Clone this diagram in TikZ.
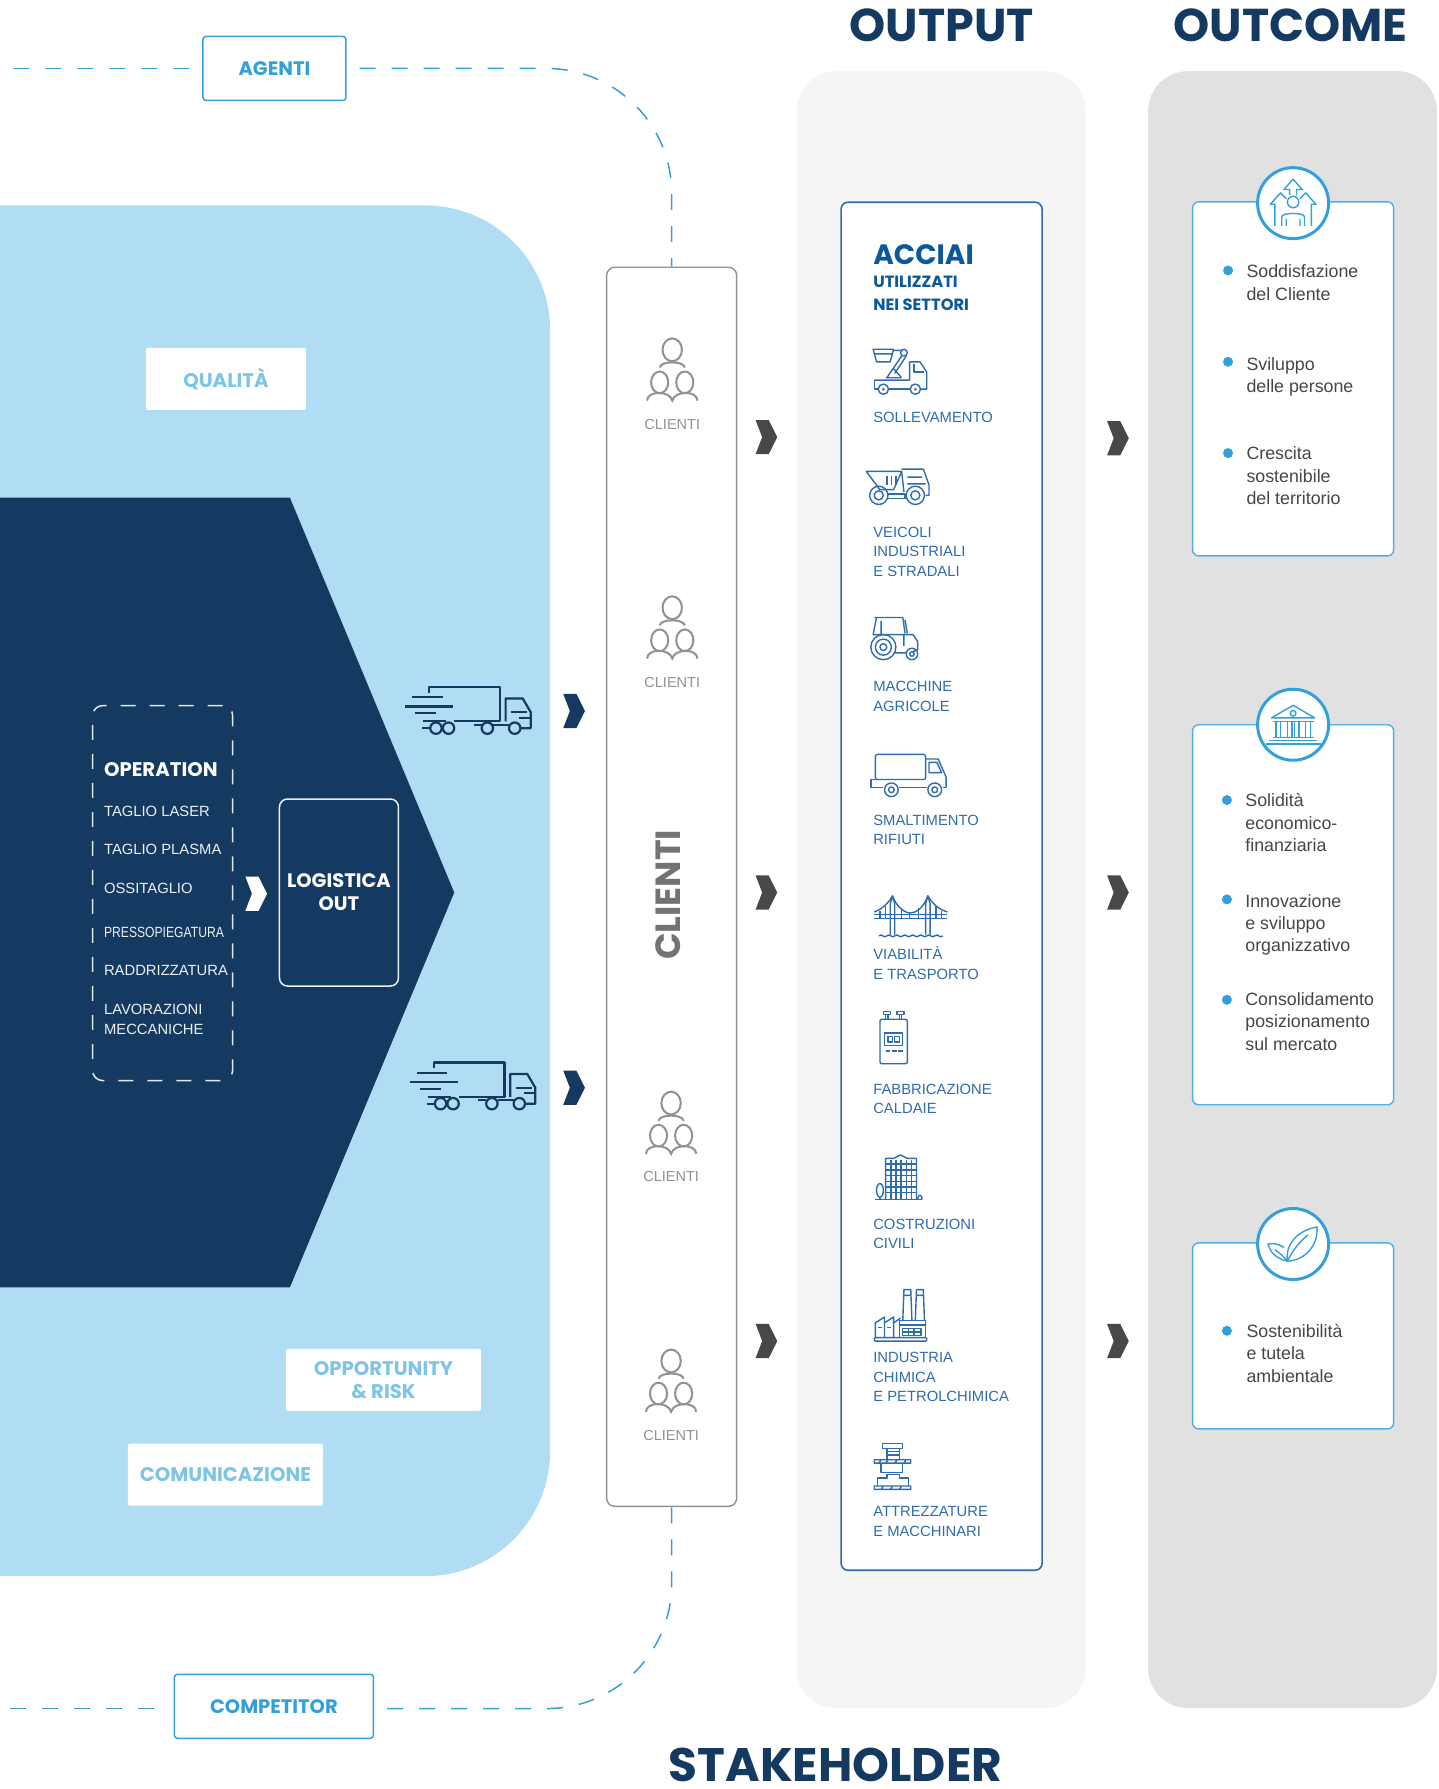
\documentclass[tikz,border=0pt]{standalone}
\usepackage{fontspec}
\usepackage{xcolor}
\setmainfont{Liberation Sans}
\newfontfamily\headfont{Poppins}
\usetikzlibrary{positioning,calc}
\definecolor{navyblue}{RGB}{21,58,97}
\definecolor{skyblue}{RGB}{176,221,243}
\definecolor{tagblue}{RGB}{125,196,230}
\definecolor{agentblue}{RGB}{52,160,218}
\definecolor{sectorblue}{RGB}{47,108,173}
\definecolor{acciaiblue}{RGB}{11,88,155}
\definecolor{outputgrey}{RGB}{245,245,246}
\definecolor{outcomegrey}{RGB}{225,225,225}
\definecolor{clientgrey}{RGB}{145,145,145}
\definecolor{chevgrey}{RGB}{72,72,72}
\definecolor{cardtext}{RGB}{70,70,70}
\tikzset{
    pics/chevronmark/.style={code={
        \fill[#1] (-9.5,-15) -- (2,-15) -- (9.5,0) -- (2,15) -- (-9.5,15) -- (-3.7,0) -- cycle;
    }},
    pics/people/.style={code={
        \draw (0,-18.5) ellipse (8.5 and 10);
        \draw (-11,-3) .. controls (-10,-9) and (10,-9) .. (11,-3);
        \draw (-11,10) ellipse (7.5 and 9.5);
        \draw (11,10) ellipse (7.5 and 9.5);
        \draw (-22,26) .. controls (-22,17) and (-2,17) .. (0,26) .. controls (2,17) and (22,17) .. (22,26);
    }},
    pics/fasttruck/.style={code={
        \draw (21,5) -- (21,0) -- (83,0) -- (83,30) -- (43,30);
        \draw (6,9) -- (33,9) (0,17) -- (42,17) (9,23) -- (27,23) (16,30) -- (36,30) (15,36) -- (22,36);
        \draw (27,36) circle (5) (38,36) circle (5) (72,36) circle (5) (96,36) circle (5);
        \draw (77,33) -- (91,33) (60,33) -- (67,33);
        \draw (88,30) -- (88,10) -- (103,10) -- (110,22) -- (110,36) -- (101,36);
        \draw (93,22) -- (107,22) (100,27) -- (110,27);
    }},
    pics/lifticon/.style={code={
        \draw (0,1) -- (18,1) -- (15,12) -- (3,12) -- cycle (1,5) -- (17,5);
        \draw (18,2) -- (26,2) (27,4) circle (3);
        \draw (25,7) -- (12,26) (29,7) -- (19,22) (18,18) -- (25,26) (11,26) -- (25,26);
        \draw (1,28) -- (32,28) -- (32,12) -- (41,12) -- (47,21) -- (47,36) -- (42,36);
        \draw (1,28) -- (1,36) -- (4,36) (14,36) -- (32,36) (36,14) -- (36,21) -- (45,21);
        \draw (9,36) circle (4.5) (37,36) circle (4.5);
        \fill (9,36) circle (1.3) (37,36) circle (1.3);
    }},
    pics/dumpicon/.style={code={
        \draw (0,3) -- (31,3) -- (24,19) -- (12,19) -- cycle;
        \draw (18,7) -- (18,15) (22,7) -- (22,15) (26,7) -- (26,15);
        \draw (31,1) -- (50,1) -- (55,15) -- (55,24) -- (52,24);
        \draw (31,3) -- (33,21) (36,8) -- (49,8) (36,14) -- (52,14);
        \draw (11,24) circle (8) (11,24) circle (4) (43,24) circle (8) (43,24) circle (4);
        \draw (19,23) -- (34,23) -- (34,27) -- (19,27);
    }},
    pics/tractoricon/.style={code={
        \draw (4,1) -- (29,1) -- (31,15) (6,1) -- (3,16) (10,4) -- (10,16) (31,3) -- (33,15);
        \draw (3,16) -- (38,16) -- (42,22) -- (42,29) -- (38,31) (22,32) -- (32,32) (30,16) -- (30,26);
        \draw (12,27) circle (11) (12,27) circle (7) (12,27) circle (3);
        \draw (37,33) circle (5) (37,33) circle (2);
    }},
    pics/boxicon/.style={code={
        \draw[rounded corners=2] (4,22) -- (4,0) -- (48,0) -- (48,22) -- cycle;
        \draw (4,22) -- (0,22) -- (0,29) -- (11,29) (25,29) -- (49,29) (63,29) -- (66,29);
        \draw (48,4) -- (59,4) -- (66,20) -- (66,29) (51,7) -- (58,7) -- (62,16) -- (51,16) -- cycle;
        \draw (18,31) circle (6) (18,31) circle (2.5) (56,31) circle (6) (56,31) circle (2.5);
    }},
    pics/bridgeicon/.style={code={
        \draw (14,35) -- (14,8) -- (16,1) -- (18,8) -- (18,35) (45,35) -- (45,8) -- (47,1) -- (49,8) -- (49,35);
        \draw (0,17) -- (64,17) (0,21) -- (64,21);
        \draw (0,15) .. controls (6,13) and (12,8) .. (16,1) .. controls (20,12) and (28,16) .. (31.5,16) .. controls (36,16) and (43,12) .. (47,1) .. controls (51,8) and (57,13) .. (64,15);
        \draw (5,14) -- (5,21) (10,10) -- (10,21) (24,12) -- (24,21) (31,16) -- (31,21) (39,12) -- (39,21) (54,10) -- (54,21) (59,14) -- (59,21);
        \draw (4,36) .. controls (7,33) and (8,39) .. (11,36) .. controls (14,33) and (15,39) .. (18,36) .. controls (21,33) and (22,39) .. (25,36) .. controls (28,33) and (29,39) .. (32,36) .. controls (35,33) and (36,39) .. (39,36) .. controls (42,33) and (43,39) .. (46,36) .. controls (49,33) and (50,39) .. (53,36) .. controls (56,33) and (57,39) .. (60,36);
    }},
    pics/boilericon/.style={code={
        \draw[rounded corners=2] (1,8) rectangle (25,47);
        \draw (4,1) rectangle (10,4) (16,1) rectangle (22,4) (6,4) -- (6,8) (8,4) -- (8,8) (18,4) -- (18,8) (20,4) -- (20,8);
        \draw (5,20) rectangle (21,31) (8,23) rectangle (12,28) (14,23) rectangle (18,28);
        \draw (6,36) -- (10,36) (11.5,36) -- (15.5,36) (17,36) -- (21,36);
    }},
    pics/buildingicon/.style={code={
        \draw (9,40) -- (9,4) -- (16,4) -- (22,1) -- (28,4) -- (36,4) -- (36,40);
        \draw (0,40) -- (41,40) (4,40) -- (4,39);
        \draw (4,32) ellipse (3 and 6);
        \draw (37,40) .. controls (37,35) and (41,35) .. (41,40);
        \draw (9,9) -- (36,9) (9,14) -- (36,14) (9,19) -- (36,19) (9,24) -- (36,24) (9,29) -- (36,29) (9,34) -- (36,34);
        \draw (13.5,5) -- (13.5,40) (18,5) -- (18,40) (22.5,5) -- (22.5,40) (27,5) -- (27,40) (31.5,5) -- (31.5,40);
    }},
    pics/factoryicon/.style={code={
        \draw (25,27) -- (26,0) -- (32,0) -- (33,27) (36,27) -- (37,0) -- (43,0) -- (44,27) (26,5) -- (32,5) (37,5) -- (43,5);
        \draw[rounded corners=1] (0,42) rectangle (46,45);
        \draw (1,42) -- (1,29) -- (9,24) -- (9,42) (9,29) -- (17,24) -- (17,42) (17,29) -- (23,25);
        \draw (22,27) -- (45,27) -- (45,42) (22,27) -- (22,42) (22,31) -- (45,31);
        \draw (25,34) rectangle (41,40) (30,34) -- (30,40) (35,34) -- (35,40) (25,37) -- (41,37);
        \draw (3,33) -- (7,33) (11,33) -- (15,33);
    }},
    pics/pressicon/.style={code={
        \draw (7,1) rectangle (25,5) (11,5) -- (11,15) (22,5) -- (22,15) (11,8) -- (22,8) (11,11) -- (22,11);
        \draw (0,15) rectangle (32,18) (6,15) -- (4,18) (12,15) -- (10,18) (20,15) -- (18,18) (28,15) -- (26,18);
        \draw (6,18) -- (6,26) -- (25,26) -- (25,18);
        \draw (3,38) -- (3,31) -- (11,31) -- (11,28) -- (22,28) -- (22,31) -- (30,31) -- (30,38);
        \draw (0,38) rectangle (32,41) (8,38) -- (6,41) (16,38) -- (14,41) (24,38) -- (22,41);
    }},
    pics/growicon/.style={code={
        \draw (0,-1) circle (5);
        \draw (-10,20) -- (-10,12) .. controls (-10,8) and (10,8) .. (10,12) -- (10,20) (-6,14) -- (-6,20) (6,14) -- (6,20);
        \draw (-3,-7) -- (-3,-12) -- (-8,-12) -- (0,-21) -- (8,-12) -- (3,-12) -- (3,-7);
        \draw (-16,20) -- (-16,1) -- (-20,1) -- (-11,-9) -- (-6,-4);
        \draw (16,20) -- (16,1) -- (20,1) -- (11,-9) -- (6,-4);
    }},
    pics/bankicon/.style={code={
        \draw (-19,-6) -- (0,-17) -- (19,-6) -- cycle (0,-10) circle (2.5);
        \draw (-18,-3) -- (18,-3);
        \draw (-15,-3) -- (-15,11) (-11,-3) -- (-11,11) (-5,-3) -- (-5,11) (-1,-3) -- (-1,11) (1,-3) -- (1,11) (5,-3) -- (5,11) (11,-3) -- (11,11) (15,-3) -- (15,11);
        \draw (-18,11) -- (18,11) (-21,14) -- (21,14) (-24,17) -- (24,17);
    }},
    pics/leaficon/.style={code={
        \draw (-5,15) .. controls (-7,0) and (4,-12) .. (21,-15) .. controls (22,0) and (12,14) .. (-5,15) -- cycle;
        \draw (-5,15) .. controls (0,4) and (8,-4) .. (13,-8);
        \draw (-5,15) .. controls (-14,13) and (-20,8) .. (-22,0) .. controls (-17,-1) and (-12,0) .. (-8,3);
        \draw (-5,15) .. controls (-9,10) and (-13,7) .. (-16,5);
    }}
}
\begin{document}
\begin{tikzpicture}[x=1.1413pt, y=-1.1413pt,
    titletext/.style={text=navyblue, inner sep=0, font=\headfont\bfseries\fontsize{46}{46}\selectfont},
    agentbox/.style={rectangle, draw=agentblue, fill=white, line width=1.5pt, rounded corners=3pt,
                text=agentblue, minimum height=64pt, font=\headfont\bfseries\fontsize{19.5}{24}\selectfont},
    tagbox/.style={rectangle, fill=white, rounded corners=2pt, minimum height=62pt, align=center, text=tagblue,
                font=\headfont\bfseries\fontsize{19.7}{23}\selectfont},
    oplabel/.style={anchor=base west, inner sep=0, align=left, text=white!92!navyblue,
                font=\fontsize{14.8}{19.4}\selectfont},
    sector/.style={anchor=base west, inner sep=0, align=left, text=sectorblue,
                font=\fontsize{14.8}{19.4}\selectfont},
    clientlabel/.style={text=clientgrey, inner sep=0, font=\fontsize{14.5}{17}\selectfont},
    card/.style={rectangle, draw=agentblue!85, fill=white, line width=1.4pt, rounded corners=6pt,
                minimum width=201pt},
    badge/.style={circle, draw=agentblue, fill=white, line width=3pt, minimum size=71pt, inner sep=0},
    goal/.style={anchor=base west, inner sep=0, align=left, text=cardtext,
                font=\fontsize{17.8}{22.3}\selectfont},
    dot/.style={circle, fill=agentblue, minimum size=10pt, inner sep=0},
    dashline/.style={agentblue, line width=1.5pt, dash pattern=on 16pt off 16pt},
    iconline/.style={sectorblue, line width=1.4pt, line join=round},
    badgeline/.style={agentblue, line width=1.4pt, line join=round},
    truckline/.style={navyblue, line width=2.2pt, line join=round},
    peopleline/.style={clientgrey, line width=2pt}
]
\useasboundingbox (0,0) rectangle (1260,1567.5);

% Panels
\node[rectangle, fill=outputgrey, rounded corners=40pt, minimum width=289pt, minimum height=1637pt] (outputpanel) at (824.5,779.5) {};
\node[rectangle, fill=outcomegrey, rounded corners=40pt, minimum width=289pt, minimum height=1637pt] (outcomepanel) at (1132.5,779.5) {};
\fill[skyblue] (0,180) [rounded corners=125pt] -- (482,180) -- (482,1381) [sharp corners] -- (0,1381) -- cycle;
\fill[navyblue] (0,436) -- (254,436) -- (398,782) -- (254,1128) -- (0,1128) -- cycle;

% Titles
\node[titletext] (outputtitle) at (825,22) {OUTPUT};
\node[titletext] (outcometitle) at (1131,22) {OUTCOME};
\node[titletext, font=\headfont\bfseries\fontsize{47}{47}\selectfont] (stakeholder) at (732,1546) {STAKEHOLDER};

% Stakeholder ring
\node[agentbox, minimum width=143pt] (agenti) at (240.5,60) {AGENTI};
\node[agentbox, minimum width=199pt] (competitor) at (240,1495) {COMPETITOR};
\node[rectangle, draw=clientgrey, fill=white, line width=1.4pt, rounded corners=8pt, minimum width=130pt, minimum height=1239pt] (clienti) at (588.5,777) {};
\coordinate (ringtopleft) at (10,60);
\coordinate (ringbotleft) at (8,1497);
\draw[dashline, shorten <=13pt] (agenti.west) -- (ringtopleft);
\draw[dashline, shorten <=20pt] (competitor.west |- ringbotleft) -- (ringbotleft);
\draw[dashline, rounded corners=125pt, shorten <=13pt] (agenti.east) -- (clienti.north |- agenti.east) -- (clienti.north);
\draw[dashline, rounded corners=125pt, shorten <=13pt] (competitor.east |- ringbotleft) -- (clienti.south |- ringbotleft) -- (clienti.south);

% Tags
\node[tagbox, minimum width=160pt] (qualita) at (198,332) {QUALITÀ};
\node[tagbox, minimum width=195pt] (opportunity) at (336,1209) {OPPORTUNITY\\\& RISK};
\node[tagbox, minimum width=195pt] (comunicazione) at (197.5,1292) {COMUNICAZIONE};

% Operation
\node[rectangle, draw=white!88!navyblue, line width=1.5pt, rounded corners=10pt, dash pattern=on 15pt off 14pt, minimum width=140pt, minimum height=375pt] (operation) at (142.5,782.5) {};
\node[oplabel, font=\headfont\bfseries\fontsize{19.7}{22}\selectfont, text=white] (optitle) at (91,680) {OPERATION};
\node[oplabel] (laser) at (91,715) {TAGLIO LASER};
\node[oplabel] (plasma) at (91,749) {TAGLIO PLASMA};
\node[oplabel] (ossitaglio) at (91,783) {OSSITAGLIO};
\node[oplabel, font=\addfontfeature{FakeStretch=0.82}\fontsize{14.8}{19.4}\selectfont] (piegatura) at (91,821) {PRESSOPIEGATURA};
\node[oplabel] (raddrizzatura) at (91,855) {RADDRIZZATURA};
\node[oplabel] (meccaniche) at (91,906) {LAVORAZIONI\\MECCANICHE};
\node[rectangle, draw=white!92!navyblue, line width=1.5pt, rounded corners=8pt, minimum width=119pt, minimum height=187pt, align=center, text=white, font=\headfont\bfseries\fontsize{19.5}{23}\selectfont] (logistica) at (297,782) {LOGISTICA\\OUT};

% Trucks and chevrons
\pic at (224.5,783) {chevronmark={white}};
\pic[truckline] at (355,602) {fasttruck};
\pic[truckline] at (359,931) {fasttruck};
\pic at (503,623) {chevronmark={navyblue}};
\pic at (503,953) {chevronmark={navyblue}};
\pic at (671.5,383) {chevronmark={chevgrey}};
\pic at (671.5,782) {chevronmark={chevgrey}};
\pic at (671.5,1175) {chevronmark={chevgrey}};
\pic at (979.5,384) {chevronmark={chevgrey}};
\pic at (979.5,782) {chevronmark={chevgrey}};
\pic at (979.5,1175) {chevronmark={chevgrey}};

% Clienti
\pic[peopleline] at (589,325) {people};
\pic[peopleline] at (589,551) {people};
\pic[peopleline] at (588,985) {people};
\pic[peopleline] at (588,1211) {people};
\node[clientlabel] (clienti1) at (589,372) {CLIENTI};
\node[clientlabel] (clienti2) at (589,598) {CLIENTI};
\node[clientlabel] (clienti3) at (588,1031) {CLIENTI};
\node[clientlabel] (clienti4) at (588,1258) {CLIENTI};
\node[rotate=90, text=black!55, font=\headfont\bfseries\fontsize{35}{35}\selectfont] (clientibig) at (585,784) {CLIENTI};

% Acciai
\node[rectangle, draw=sectorblue, fill=white, line width=1.6pt, rounded corners=7pt, minimum width=201pt, minimum height=1368pt] (acciai) at (825,776.5) {};
\node[sector, text=acciaiblue, font=\headfont\bfseries\fontsize{28}{30}\selectfont] (acciaititle) at (765,232) {ACCIAI};
\node[sector, text=acciaiblue, font=\headfont\bfseries\fontsize{16.3}{22.8}\selectfont] (settori) at (765,272) {UTILIZZATI\\NEI SETTORI};

\pic[iconline] at (765,305) {lifticon};
\node[sector] (sollevamento) at (765,370) {SOLLEVAMENTO};
\pic[iconline] at (759,410) {dumpicon};
\node[sector] (veicoli) at (765,505) {VEICOLI\\INDUSTRIALI\\E STRADALI};
\pic[iconline] at (762,540) {tractoricon};
\node[sector] (macchine) at (765,623) {MACCHINE\\AGRICOLE};
\pic[iconline] at (763,661) {boxicon};
\node[sector] (smaltimento) at (765,740) {SMALTIMENTO\\RIFIUTI};
\pic[iconline] at (766,784) {bridgeicon};
\node[sector] (viabilita) at (765,858) {VIABILITÀ\\E TRASPORTO};
\pic[iconline] at (770,885) {boilericon};
\node[sector] (caldaie) at (765,976) {FABBRICAZIONE\\CALDAIE};
\pic[iconline] at (767,1011) {buildingicon};
\node[sector] (civili) at (765,1094) {COSTRUZIONI\\CIVILI};
\pic[iconline] at (766,1130) {factoryicon};
\node[sector] (chimica) at (765,1228) {INDUSTRIA\\CHIMICA\\E PETROLCHIMICA};
\pic[iconline] at (766,1264) {pressicon};
\node[sector] (macchinari) at (765,1346) {ATTREZZATURE\\E MACCHINARI};

% Outcome cards
\node[card, minimum height=354pt] (cardone) at (1133,332) {};
\node[card, minimum height=380pt] (cardtwo) at (1133,801.5) {};
\node[card, minimum height=186pt] (cardthree) at (1133,1170.5) {};
\node[badge] (badgeone) at (1133,178) {};
\node[badge] (badgetwo) at (1133,635) {};
\node[badge] (badgethree) at (1133,1090) {};
\pic[badgeline] at (badgeone) {growicon};
\pic[badgeline] at (badgetwo) {bankicon};
\pic[badgeline] at (badgethree) {leaficon};

\node[dot] (dotone) at (1076,237) {};
\node[goal] (soddisfazione) at (1092,263) {Soddisfazione\\del Cliente};
\node[dot] (dottwo) at (1076,317) {};
\node[goal] (sviluppo) at (1092,344) {Sviluppo\\delle persone};
\node[dot] (dotthree) at (1076,397) {};
\node[goal] (crescita) at (1092,442) {Crescita\\sostenibile\\del territorio};

\node[dot] (dotfour) at (1075,701) {};
\node[goal] (solidita) at (1091,746) {Solidità\\economico-\\finanziaria};
\node[dot] (dotfive) at (1075,788) {};
\node[goal] (innovazione) at (1091,834) {Innovazione\\e sviluppo\\organizzativo};
\node[dot] (dotsix) at (1075,876) {};
\node[goal] (consolidamento) at (1091,920) {Consolidamento\\posizionamento\\sul mercato};

\node[dot] (dotseven) at (1075,1166) {};
\node[goal] (sostenibilita) at (1092,1211) {Sostenibilità\\e tutela\\ambientale};

\end{tikzpicture}
\end{document}
